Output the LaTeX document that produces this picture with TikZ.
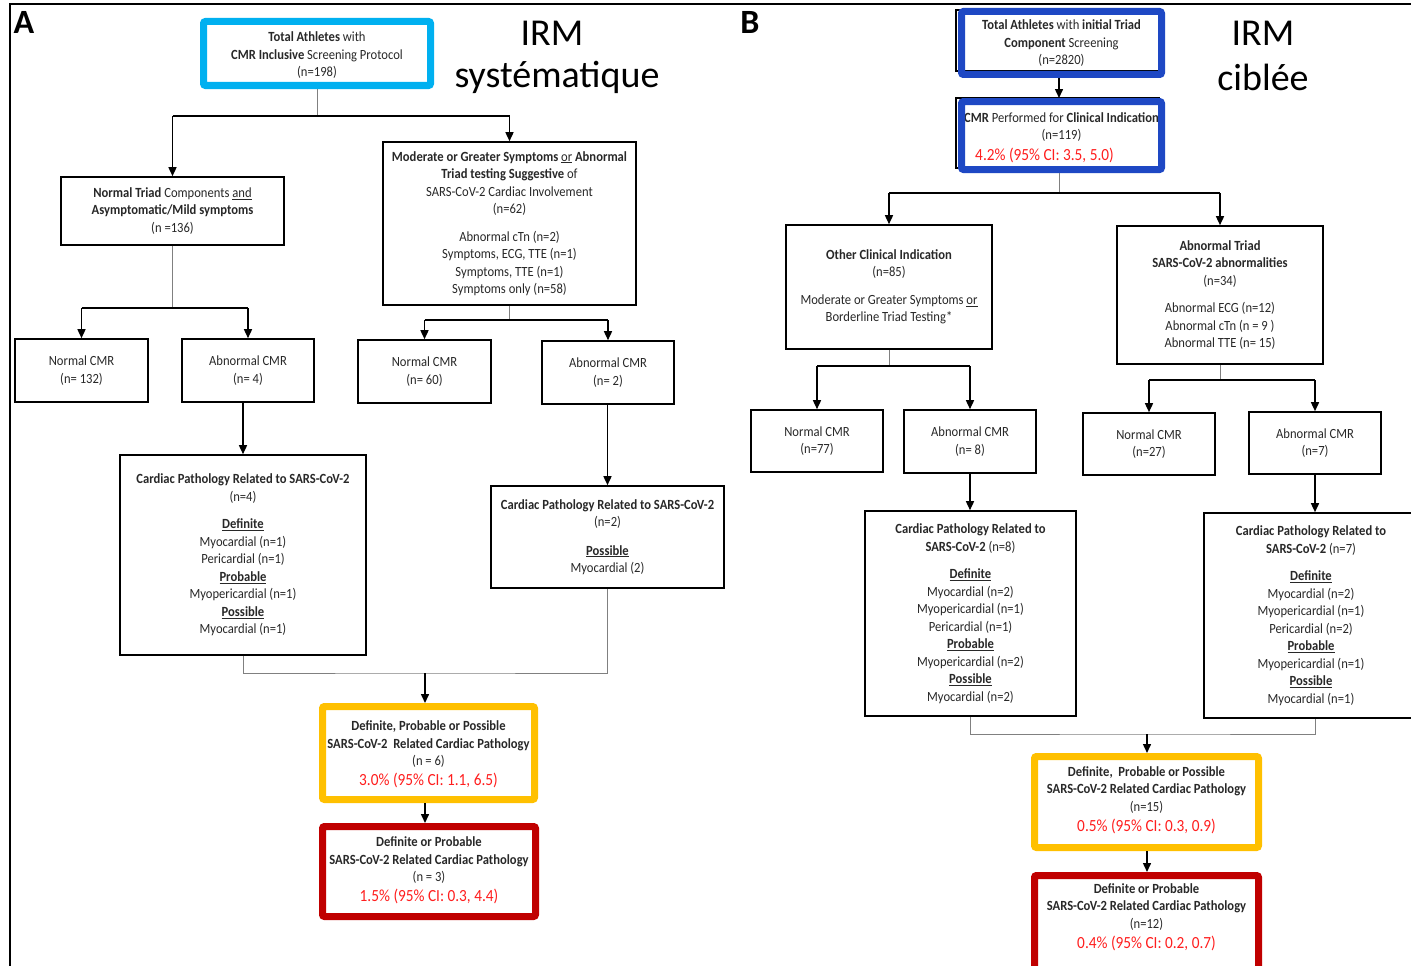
\documentclass[tikz,border=0pt]{standalone}
\usepackage{fontspec}
\setmainfont{Carlito}[FakeStretch=0.9]
\newfontfamily\bigfont{Carlito}
\usetikzlibrary{arrows.meta}
\definecolor{cyanbox}{RGB}{0,176,240}
\definecolor{bluebox}{RGB}{30,72,196}
\definecolor{yellowbox}{RGB}{255,192,0}
\definecolor{redbox}{RGB}{192,0,0}
\definecolor{redtxt}{RGB}{255,30,30}
\definecolor{txt}{RGB}{40,40,40}
\newcommand{\smallfs}{\fontsize{14}{17.5}\selectfont}
\newcommand{\redfs}{\fontsize{17}{19}\selectfont}
\newcommand{\redline}[1]{{\redfs\color{redtxt}#1}}
\tikzset{
  box/.style={draw=black, line width=1.6pt, align=center, inner sep=0pt, font=\smallfs, text=txt},
  txtbox/.style={align=center, inner sep=0pt, font=\smallfs, text=txt},
  frame/.style={fill=none, inner sep=0pt},
  stub/.style={draw=black!50, line width=1pt},
  branch/.style={draw=black, line width=1.5pt},
  arr/.style={draw=black, line width=1.5pt, -{Triangle[length=9pt,width=8pt]}},
  biglabel/.style={font=\bigfont\fontsize{38}{40}\selectfont, inner sep=0pt, align=center},
  panel/.style={font=\bigfont\bfseries\fontsize{34}{34}\selectfont, inner sep=0pt},
}
\begin{document}
\begin{tikzpicture}[x=1pt,y=-1pt]
\useasboundingbox (0,0) rectangle (1411,966);
\fill[white] (0,0) rectangle (1411,966);
\draw[line width=1.5pt] (10,966) -- (10,4) -- (1411,4);

% ================= Panel A =================
\node[panel] (labA) at (24,22) {A};
\node[biglabel] (irmA) at (552,33) {IRM};
\node[biglabel] (sysA) at (557,77) {systématique};

\node[txtbox] (topt) at (317,55.5) {\textbf{Total Athletes} with\\ \textbf{CMR Inclusive} Screening Protocol\\ (n=198)};
\node[frame, draw=cyanbox, line width=7pt, minimum width=227pt, minimum height=64pt, rounded corners=2pt] (top) at (317,53.5) {};

\node[box, minimum width=223pt, minimum height=68pt] (nt) at (172.5,211) {\textbf{Normal Triad} Components \underline{and}\\ \textbf{Asymptomatic/Mild symptoms}\\ (n =136)};
\node[box, minimum width=253pt, minimum height=163pt] (mod) at (509.5,223.5) {\textbf{Moderate or Greater Symptoms} \underline{or} \textbf{Abnormal}\\ \textbf{Triad testing Suggestive} of\\ SARS-CoV-2 Cardiac Involvement\\ (n=62)\\[10pt] Abnormal cTn (n=2)\\ Symptoms, ECG, TTE (n=1)\\ Symptoms, TTE (n=1)\\ Symptoms only (n=58)};

\node[box, minimum width=133pt, minimum height=63pt] (a1) at (81.5,370.5) {Normal CMR\\ (n= 132)};
\node[box, minimum width=132pt, minimum height=63pt] (a2) at (248,370.5) {Abnormal CMR\\ (n= 4)};
\node[box, minimum width=133pt, minimum height=63pt] (a3) at (424.5,371.5) {Normal CMR\\ (n= 60)};
\node[box, minimum width=132pt, minimum height=63pt] (a4) at (608,372.5) {Abnormal CMR\\ (n= 2)};

\node[box, minimum width=246pt, minimum height=200pt] (a5) at (243,555) {\textbf{Cardiac Pathology Related to SARS-CoV-2}\\ (n=4)\\[10pt] \underline{\textbf{Definite}}\\ Myocardial (n=1)\\ Pericardial (n=1)\\ \underline{\textbf{Probable}}\\ Myopericardial (n=1)\\ \underline{\textbf{Possible}}\\ Myocardial (n=1)};
\node[box, minimum width=233pt, minimum height=102pt] (a6) at (607.5,537) {\textbf{Cardiac Pathology Related to SARS-CoV-2}\\ (n=2)\\[11pt] \underline{\textbf{Possible}}\\ Myocardial (2)};

\node[txtbox] (a7t) at (428.5,754) {\textbf{Definite, Probable or Possible}\\ \textbf{SARS-CoV-2\ \ Related Cardiac Pathology}\\ (n = 6)\\[2pt] \redline{3.0\% (95\% CI: 1.1, 6.5)}};
\node[frame, draw=yellowbox, line width=7pt, minimum width=212pt, minimum height=93pt, rounded corners=2pt] (a7) at (428.5,753) {};

\node[txtbox] (a8t) at (429,870) {\textbf{Definite or Probable}\\ \textbf{SARS-CoV-2 Related Cardiac Pathology}\\ (n = 3)\\[2pt] \redline{1.5\% (95\% CI: 0.3, 4.4)}};
\node[frame, draw=redbox, line width=7pt, minimum width=213pt, minimum height=90pt, rounded corners=2pt] (a8) at (429,871.5) {};

% connectors A
\coordinate (ja) at (317,116);
\draw[stub] (top.south) -- (ja);
\draw[branch] (nt.north |- ja) -- (mod.north |- ja);
\draw[arr] (nt.north |- ja) -- (nt.north);
\draw[arr] (mod.north |- ja) -- (mod.north);

\coordinate (jb) at (172.5,308);
\draw[stub] (nt.south) -- (jb);
\draw[branch] (a1.north |- jb) -- (a2.north |- jb);
\draw[arr] (a1.north |- jb) -- (a1.north);
\draw[arr] (a2.north |- jb) -- (a2.north);

\coordinate (jc) at (509.5,320);
\draw[stub] (mod.south) -- (jc);
\draw[branch] (a3.north |- jc) -- (a4.north |- jc);
\draw[arr] (a3.north |- jc) -- (a3.north);
\draw[arr] (a4.north |- jc) -- (a4.north);

\draw[arr] (a2.south -| a5.north) -- (a5.north);
\draw[arr] (a4.south -| a6.north) -- (a6.north);

\coordinate (jd) at (425,673);
\draw[stub] (a5.south) |- (jd) -| (a6.south);
\draw[arr] (jd) -- (jd |- a7.north);
\draw[arr] (a7.south -| jd) -- (jd |- a8.north);

% ================= Panel B =================
\node[panel] (labB) at (750,22) {B};
\node[biglabel] (irmB) at (1263,33) {IRM};
\node[biglabel] (cibB) at (1263,77) {ciblée};

\draw[line width=1.5pt] (956,10) rectangle (1159,71);
\node[txtbox] (b1t) at (1061.5,43.5) {\textbf{Total Athletes} with \textbf{initial Triad}\\ \textbf{Component} Screening\\ (n=2820)};
\node[frame, draw=bluebox, line width=7pt, minimum width=200pt, minimum height=63pt, rounded corners=2pt] (b1) at (1061.5,43) {};

\draw[line width=1.5pt] (956,98) rectangle (1159,168);
\node[txtbox] (b2t) at (1061.5,137.5) {\textbf{CMR} Performed for \textbf{Clinical Indication}\\ (n=119)\\[3pt] \redline{4.2\% (95\% CI: 3.5, 5.0)}\hspace*{34pt}};
\node[frame, draw=bluebox, line width=7pt, minimum width=200pt, minimum height=68pt, rounded corners=2pt] (b2) at (1061.5,135.5) {};

\node[box, minimum width=206pt, minimum height=124pt] (b3) at (889,287) {\textbf{Other Clinical Indication}\\ (n=85)\\[10pt] Moderate or Greater Symptoms \underline{or}\\ Borderline Triad Testing*};
\node[box, minimum width=206pt, minimum height=138pt] (b4) at (1220,295) {\textbf{Abnormal Triad}\\ \textbf{SARS-CoV-2 abnormalities}\\ (n=34)\\[10pt] Abnormal ECG (n=12)\\ Abnormal cTn (n = 9 )\\ Abnormal TTE (n= 15)};

\node[box, minimum width=132pt, minimum height=62pt] (b5) at (817,441) {Normal CMR\\ (n=77)};
\node[box, minimum width=132pt, minimum height=63pt] (b6) at (970,441.5) {Abnormal CMR\\ (n= 8)};
\node[box, minimum width=132pt, minimum height=62pt] (b7) at (1149,444) {Normal CMR\\ (n=27)};
\node[box, minimum width=132pt, minimum height=62pt] (b8) at (1315,443) {Abnormal CMR\\ (n=7)};

\node[box, minimum width=211pt, minimum height=205pt] (b9) at (970.5,613.5) {\textbf{Cardiac Pathology Related to}\\ \textbf{SARS-CoV-2} (n=8)\\[10pt] \underline{\textbf{Definite}}\\ Myocardial (n=2)\\ Myopericardial (n=1)\\ Pericardial (n=1)\\ \underline{\textbf{Probable}}\\ Myopericardial (n=2)\\ \underline{\textbf{Possible}}\\ Myocardial (n=2)};
\node[box, minimum width=214pt, minimum height=205pt] (b10) at (1311,615.5) {\textbf{Cardiac Pathology Related to}\\ \textbf{SARS-CoV-2} (n=7)\\[10pt] \underline{\textbf{Definite}}\\ Myocardial (n=2)\\ Myopericardial (n=1)\\ Pericardial (n=2)\\ \underline{\textbf{Probable}}\\ Myopericardial (n=1)\\ \underline{\textbf{Possible}}\\ Myocardial (n=1)};

\node[txtbox] (b11t) at (1146.5,800) {\textbf{Definite,\ \ Probable or Possible}\\ \textbf{SARS-CoV-2 Related Cardiac Pathology}\\ (n=15)\\[3pt] \redline{0.5\% (95\% CI: 0.3, 0.9)}};
\node[frame, draw=yellowbox, line width=7pt, minimum width=224pt, minimum height=91pt, rounded corners=2pt] (b11) at (1146.5,802) {};

\node[txtbox] (b12t) at (1146.5,917) {\textbf{Definite or Probable}\\ \textbf{SARS-CoV-2 Related Cardiac Pathology}\\ (n=12)\\[3pt] \redline{0.4\% (95\% CI: 0.2, 0.7)}};
\node[frame, draw=redbox, line width=7pt, minimum width=224pt, minimum height=100pt, rounded corners=2pt] (b12) at (1146.5,925.5) {};

% connectors B
\draw[arr] (b1.south -| 1059,0) -- (b2.north -| 1059,0);

\coordinate (je) at (1059,193);
\draw[stub] (b2.south -| je) -- (je);
\draw[branch] (b3.north |- je) -- (b4.north |- je);
\draw[arr] (b3.north |- je) -- (b3.north);
\draw[arr] (b4.north |- je) -- (b4.north);

\coordinate (jf) at (889,366);
\draw[stub] (b3.south) -- (jf);
\draw[branch] (b5.north |- jf) -- (b6.north |- jf);
\draw[arr] (b5.north |- jf) -- (b5.north);
\draw[arr] (b6.north |- jf) -- (b6.north);

\coordinate (jg) at (1220,380);
\draw[stub] (b4.south) -- (jg);
\draw[branch] (b7.north |- jg) -- (b8.north |- jg);
\draw[arr] (b7.north |- jg) -- (b7.north);
\draw[arr] (b8.north |- jg) -- (b8.north);

\draw[arr] (b6.south) -- (b6.south |- b9.north);
\draw[arr] (b8.south) -- (b8.south |- b10.north);

\coordinate (jh) at (1147,734);
\draw[stub] (b9.south) |- (jh) -| (b8.south |- b10.south);
\draw[arr] (jh) -- (jh |- b11.north);
\draw[arr] (b11.south -| jh) -- (jh |- b12.north);
\end{tikzpicture}
\end{document}
